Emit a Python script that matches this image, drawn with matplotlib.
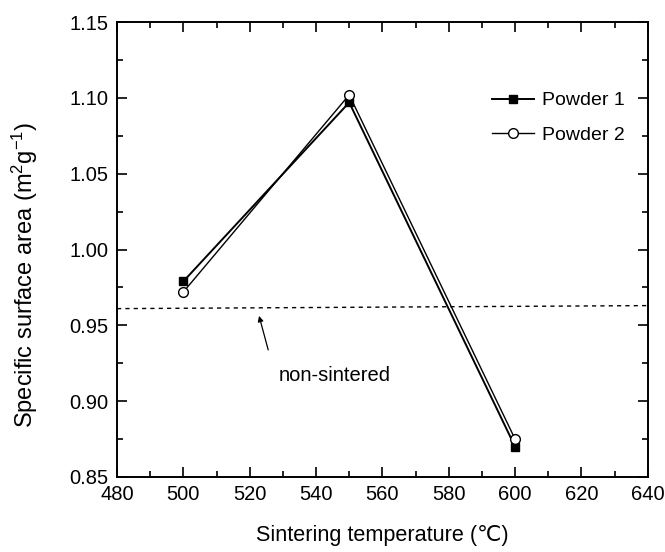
import matplotlib
matplotlib.use("Agg")
import matplotlib.pyplot as plt
from matplotlib.ticker import MultipleLocator, FormatStrFormatter

plt.rcParams['font.family'] = ['Liberation Sans', 'DejaVu Sans']
plt.rcParams['mathtext.fontset'] = 'custom'
plt.rcParams['mathtext.rm'] = 'Liberation Sans'
plt.rcParams['mathtext.it'] = 'Liberation Sans:italic'
plt.rcParams['mathtext.bf'] = 'Liberation Sans:bold'

temperature = [500, 550, 600]
powder1 = [0.979, 1.097, 0.870]
powder2 = [0.972, 1.102, 0.875]
nonsintered_x = [480, 640]
nonsintered_y = [0.961, 0.963]

fig = plt.figure(figsize=(6.65, 5.52), dpi=100)
ax = fig.add_axes([0.176, 0.136, 0.798, 0.824])

ax.plot(temperature, powder1, color='black', lw=1.4, marker='s', ms=6,
        mfc='black', mec='black', label='Powder 1', zorder=3)
ax.plot(temperature, powder2, color='black', lw=1.0, marker='o', ms=7,
        mfc='white', mec='black', mew=1.0, label='Powder 2', zorder=4)
ax.plot(nonsintered_x, nonsintered_y, color='black', lw=1.0, ls=(0, (3, 3)))

ax.annotate('', xy=(522.6, 0.958), xytext=(525.8, 0.932),
            arrowprops=dict(arrowstyle='-|>', color='black', lw=0.9,
                            mutation_scale=8))
ax.text(545.5, 0.917, 'non-sintered', ha='center', va='center', fontsize=14.5)

ax.set_xlim(480, 640)
ax.set_ylim(0.85, 1.15)
ax.xaxis.set_major_locator(MultipleLocator(20))
ax.xaxis.set_minor_locator(MultipleLocator(10))
ax.yaxis.set_major_locator(MultipleLocator(0.05))
ax.yaxis.set_minor_locator(MultipleLocator(0.025))
ax.yaxis.set_major_formatter(FormatStrFormatter('%.2f'))
ax.tick_params(which='both', direction='in', top=True, right=True, width=1.2)
ax.tick_params(which='major', length=7, labelsize=14.5, pad=6)
ax.tick_params(which='minor', length=4)
for s in ax.spines.values():
    s.set_linewidth(1.4)

ax.set_xlabel('Sintering temperature (℃)', fontsize=15.6, labelpad=15)
ax.set_ylabel('Specific surface area (m$^{2}$g$^{-1}$)', fontsize=17, labelpad=21)
ax.yaxis.label.set_y(0.444)

leg = ax.legend(loc='upper right', bbox_to_anchor=(0.99, 0.885), frameon=False,
                fontsize=14, handlelength=2.2, handletextpad=0.4, labelspacing=0.85)

fig.savefig('out.png', dpi=100)
